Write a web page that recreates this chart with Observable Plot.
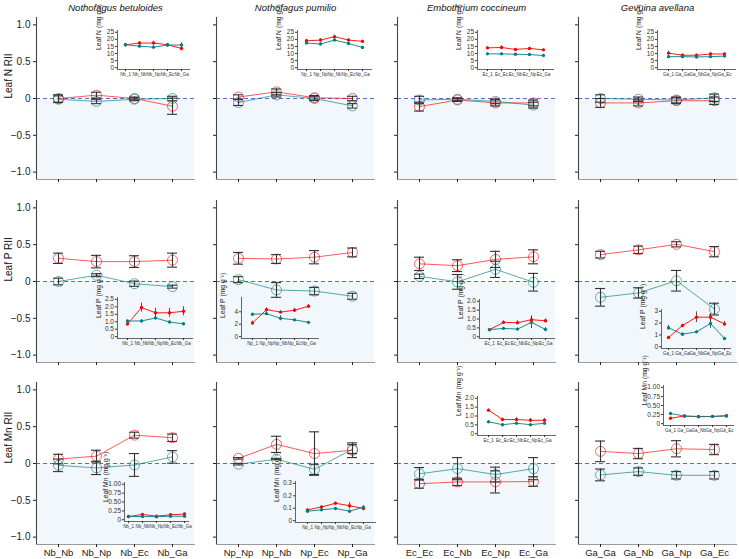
<!DOCTYPE html>
<html><head><meta charset="utf-8">
<script src="https://cdn.jsdelivr.net/npm/d3@7"></script>
<script src="https://cdn.jsdelivr.net/npm/@observablehq/plot@0.6"></script>
<style>
body{margin:0;background:#fff;}
#chart{position:relative;width:739px;height:559px;overflow:hidden;background:#fff;}
#chart svg{position:absolute;max-width:none;}
</style></head><body><div id="chart"></div>
<script>
// ---------- data ----------
const species = ["Nothofagus betuloides", "Nothofagus pumilio", "Embothrium coccineum", "Gevuina avellana"];
const rowLabels = ["Leaf N RII", "Leaf P RII", "Leaf Mn RII"];
const insetLabels = ["Leaf N (mg g\u207B\u00B9)", "Leaf P (mg g\u207B\u00B9)", "Leaf Mn (mg g\u207B\u00B9)"];
const seriesNames = ["red", "teal"];
const mainCats = [
  ["Nb_Nb", "Nb_Np", "Nb_Ec", "Nb_Ga"],
  ["Np_Np", "Np_Nb", "Np_Ec", "Np_Ga"],
  ["Ec_Ec", "Ec_Nb", "Ec_Np", "Ec_Ga"],
  ["Ga_Ga", "Ga_Nb", "Ga_Np", "Ga_Ec"]
];
const insetCats = [
  ["Nb_1", "Nb_Nb", "Nb_Np", "Nb_Ec", "Nb_Ga"],
  ["Np_1", "Np_Np", "Np_Nb", "Np_Ec", "Np_Ga"],
  ["Ec_1", "Ec_Ec", "Ec_Nb", "Ec_Np", "Ec_Ga"],
  ["Ga_1", "Ga_Ga", "Ga_Nb", "Ga_Np", "Ga_Ec"]
];
const riiTicks = [-1, -0.5, 0, 0.5, 1];

// RII (main panels): [species column][treatment]
const riiN_red     = [[0.00, 0.045, 0.00, -0.105], [0.02, 0.09, 0.01, 0.00], [-0.11, -0.02, -0.06, -0.06], [-0.06, -0.06, -0.03, -0.03]];
const riiN_redSE   = [[0.05, 0.04, 0.02, 0.11], [0.03, 0.04, 0.03, 0.03], [0.06, 0.02, 0.04, 0.04], [0.06, 0.04, 0.04, 0.05]];
const riiN_teal    = [[-0.01, -0.04, -0.01, 0.00], [-0.055, 0.05, 0.00, -0.10], [-0.02, -0.01, -0.04, -0.09], [0.00, -0.01, -0.02, 0.01]];
const riiN_tealSE  = [[0.045, 0.03, 0.02, 0.03], [0.04, 0.03, 0.03, 0.03], [0.05, 0.02, 0.03, 0.04], [0.05, 0.03, 0.04, 0.05]];

const riiP_red     = [[0.315, 0.27, 0.27, 0.29], [0.315, 0.305, 0.33, 0.395], [0.24, 0.215, 0.30, 0.335], [0.365, 0.43, 0.505, 0.405]];
const riiP_redSE   = [[0.07, 0.085, 0.08, 0.095], [0.08, 0.06, 0.09, 0.06], [0.09, 0.08, 0.11, 0.095], [0.045, 0.05, 0.035, 0.07]];
const riiP_teal    = [[0.00, 0.085, -0.03, -0.07], [0.025, -0.115, -0.13, -0.20], [0.07, -0.005, 0.165, -0.01], [-0.215, -0.155, 0.01, -0.375]];
const riiP_tealSE  = [[0.045, 0.02, 0.035, 0.02], [0.04, 0.10, 0.05, 0.04], [0.03, 0.10, 0.11, 0.12], [0.12, 0.07, 0.14, 0.08]];

const riiMn_red    = [[0.06, 0.10, 0.385, 0.35], [0.07, 0.26, 0.135, 0.18], [-0.275, -0.25, -0.25, -0.245], [0.165, 0.135, 0.20, 0.19]];
const riiMn_redSE  = [[0.065, 0.08, 0.04, 0.05], [0.01, 0.11, 0.295, 0.10], [0.06, 0.05, 0.15, 0.065], [0.14, 0.07, 0.11, 0.07]];
const riiMn_teal   = [[-0.025, -0.06, -0.02, 0.09], [-0.01, 0.06, -0.08, 0.195], [-0.14, -0.07, -0.15, -0.07], [-0.155, -0.11, -0.16, -0.16]];
const riiMn_tealSE = [[0.085, 0.09, 0.155, 0.085], [0.01, 0.01, 0.07, 0.06], [0.085, 0.15, 0.10, 0.15], [0.08, 0.05, 0.05, 0.05]];

// Leaf concentrations (insets): [species column][treatment]
const leafN_red     = [[16.2, 17.4, 17.4, 16.2, 13.6], [19.0, 19.5, 21.9, 19.5, 18.6], [14.0, 14.3, 12.9, 13.6, 12.6], [10.3, 8.8, 8.8, 9.7, 9.7]];
const leafN_redSE   = [[0.6, 1.0, 1.2, 0.8, 1.5], [1.0, 0.8, 1.0, 0.8, 0.8], [0.8, 1.2, 0.7, 0.8, 0.6], [1.3, 0.8, 0.8, 0.8, 0.6]];
const leafN_teal    = [[16.2, 15.2, 14.5, 16.0, 16.0], [17.4, 16.7, 19.5, 17.1, 14.3], [9.8, 9.8, 9.5, 9.3, 8.6], [7.8, 7.8, 7.6, 7.8, 8.2]];
const leafN_tealSE  = [[0.6, 0.8, 0.8, 0.6, 1.5], [0.8, 1.0, 1.2, 0.8, 0.8], [0.5, 0.5, 0.5, 0.5, 0.6], [0.8, 0.6, 0.6, 0.6, 0.6]];

const leafP_red     = [[0.85, 1.95, 1.6, 1.6, 1.7], [2.2, 4.35, 3.95, 4.25, 4.9], [0.4, 0.81, 0.79, 0.96, 0.9], [0.78, 1.8, 2.5, 2.5, 1.93]];
const leafP_redSE   = [[0.1, 0.3, 0.3, 0.3, 0.3], [0.3, 0.3, 0.2, 0.3, 0.3], [0.05, 0.08, 0.1, 0.2, 0.1], [0.05, 0.1, 0.45, 0.3, 0.2]];
const leafP_teal    = [[1.05, 1.05, 1.25, 0.98, 0.86], [3.6, 3.7, 2.95, 2.7, 2.3], [0.4, 0.47, 0.43, 0.81, 0.41], [1.6, 1.06, 1.26, 1.96, 0.7]];
const leafP_tealSE  = [[0.05, 0.05, 0.07, 0.05, 0.05], [0.1, 0.3, 0.4, 0.15, 0.1], [0.03, 0.05, 0.05, 0.35, 0.1], [0.2, 0.1, 0.1, 0.4, 0.05]];

const leafMn_red    = [[0.09, 0.15, 0.10, 0.14, 0.16], [0.087, 0.11, 0.14, 0.12, 0.098], [1.33, 0.80, 0.80, 0.76, 0.76], [0.15, 0.21, 0.19, 0.20, 0.22]];
const leafMn_redSE  = [[0.01, 0.02, 0.02, 0.02, 0.03], [0.008, 0.008, 0.008, 0.025, 0.01], [0.06, 0.08, 0.10, 0.10, 0.10], [0.02, 0.02, 0.02, 0.02, 0.02]];
const leafMn_teal   = [[0.09, 0.09, 0.085, 0.10, 0.10], [0.076, 0.087, 0.098, 0.076, 0.109], [0.67, 0.51, 0.59, 0.51, 0.59], [0.28, 0.21, 0.20, 0.20, 0.21]];
const leafMn_tealSE = [[0.01, 0.01, 0.01, 0.02, 0.02], [0.008, 0.008, 0.008, 0.008, 0.01], [0.06, 0.04, 0.06, 0.05, 0.06], [0.02, 0.02, 0.02, 0.02, 0.02]];

// inset y ticks, decimals and domains
const insetTicksN  = [[0, 5, 10, 15, 20, 25], [0, 5, 10, 15, 20, 25], [0, 5, 10, 15, 20, 25], [0, 5, 10, 15, 20, 25]];
const insetTicksP  = [[0, 0.5, 1, 1.5, 2, 2.5], [0, 2, 4], [0, 0.5, 1, 1.5, 2], [0, 1, 2, 3]];
const insetTicksMn = [[0, 0.25, 0.5, 0.75, 1], [0, 0.1, 0.2, 0.3], [0, 0.5, 1, 1.5, 2], [0, 0.25, 0.5, 0.75, 1]];
const insetDecimals = [[0, 0, 0, 0], [1, 0, 1, 0], [2, 1, 1, 2]];
const insetDomains = [
  [[-1.25, 26.25], [-1.25, 26.25], [-1.25, 26.25], [-1.25, 26.25]],
  [[-0.125, 2.625], [-0.3, 6.3], [-0.1, 2.1], [-0.15, 3.15]],
  [[-0.05, 1.05], [-0.015, 0.315], [-0.1, 2.1], [-0.05, 1.05]]
];

// ---------- layout (pixels) ----------
const FONT = '"Liberation Sans", Arial, Helvetica, sans-serif';
const RED = "#F8766D", TEAL = "#00BFC4";
const colX = [36, 216, 397, 578], panelW = 158;
const rowTop = [17, 200, 382], panelH = 162;
// inset boxes: axis x, pixel of value 0, px per unit, first-point offset, step
const insetBox = [
  [{x:117,y0:67,k:1.4,f:7,s:14.5},{x:297,y0:67,k:1.4,f:8,s:14.5},{x:477,y0:67,k:1.4,f:9.5,s:14.3},{x:657,y0:67,k:1.4,f:10.5,s:14.3}],
  [{x:117,y0:336,k:14.8,f:9,s:14.25},{x:241,y0:336,k:6.25,f:9,s:14.75},{x:479,y0:336,k:17.5,f:9,s:14.25},{x:661,y0:346,k:11.67,f:5,s:14.75}],
  [{x:124,y0:519,k:35,f:4,s:14},{x:295,y0:520,k:123,f:12,s:14},{x:477,y0:433,k:17.5,f:11,s:14},{x:663,y0:423,k:36,f:7,s:14}]
];

const chart = document.getElementById("chart");
function place(svg, left, top) {
  svg.style.left = left + "px";
  svg.style.top = top + "px";
  chart.appendChild(svg);
}
function rows(cats, rv, re, tv, te) {
  const out = [];
  cats.forEach((k, i) => out.push({s: seriesNames[0], k, v: rv[i], lo: rv[i] - re[i], hi: rv[i] + re[i]}));
  cats.forEach((k, i) => out.push({s: seriesNames[1], k, v: tv[i], lo: tv[i] - te[i], hi: tv[i] + te[i]}));
  return out;
}
const mainSets = [
  [riiN_red, riiN_redSE, riiN_teal, riiN_tealSE],
  [riiP_red, riiP_redSE, riiP_teal, riiP_tealSE],
  [riiMn_red, riiMn_redSE, riiMn_teal, riiMn_tealSE]
];
const insetSets = [
  [leafN_red, leafN_redSE, leafN_teal, leafN_tealSE],
  [leafP_red, leafP_redSE, leafP_teal, leafP_tealSE],
  [leafMn_red, leafMn_redSE, leafMn_teal, leafMn_tealSE]
];
const insetTicks = [insetTicksN, insetTicksP, insetTicksMn];
const fmtRII = d => d === 0 ? "0" : (d < 0 ? "\u2212" : "") + Math.abs(d).toFixed(1);

for (let r = 0; r < 3; r++) {
  for (let c = 0; c < 4; c++) {
    const [rv, re, tv, te] = mainSets[r];
    const data = rows(mainCats[c], rv[c], re[c], tv[c], te[c]);
    const mL = 36, mR = 4, mT = 17, mB = 16;
    const marks = [
      Plot.rect([0], {y1: -1.1, y2: 0, fill: "#f2f7fb"}),
      Plot.ruleY([0], {stroke: "#5b6cc4", strokeDasharray: "4,3", strokeWidth: 1}),
      Plot.frame({anchor: "left", stroke: "#444", strokeWidth: 1.1}),
      Plot.frame({anchor: "bottom", stroke: "#9a9a9a", strokeWidth: 1.1}),
      Plot.axisY({ticks: riiTicks, tickSize: 3, tickPadding: 3, tickFormat: c === 0 ? fmtRII : () => "", label: null, fontSize: 10}),
      Plot.axisX({tickSize: 3, tickPadding: 2, tickFormat: r === 2 ? d => d : () => "", label: null, fontSize: 9.5}),
      Plot.line(data, {x: "k", y: "v", stroke: "s", z: "s", strokeOpacity: 0.65, strokeWidth: 1}),
      Plot.dot(data, {x: "k", y: "v", stroke: "s", r: 5, strokeOpacity: 0.6, strokeWidth: 1}),
      Plot.ruleX(data, {x: "k", y1: "lo", y2: "hi", stroke: "#333", strokeWidth: 1.1}),
      Plot.ruleY(data, {x1: "k", x2: "k", y: "lo", insetLeft: -5, insetRight: -5, stroke: "#333", strokeWidth: 1.1}),
      Plot.ruleY(data, {x1: "k", x2: "k", y: "hi", insetLeft: -5, insetRight: -5, stroke: "#333", strokeWidth: 1.1})
    ];
    if (r === 0) marks.push(Plot.text([species[c]], {frameAnchor: "top", dy: -13, fontStyle: "italic", fontSize: 9.5, fill: "#111"}));
    if (c === 0) marks.push(Plot.text([rowLabels[r]], {frameAnchor: "left", rotate: -90, dx: -28, fontSize: 10, fill: "#111"}));
    const svg = Plot.plot({
      width: mL + panelW + mR, height: mT + panelH + mB,
      marginLeft: mL, marginRight: mR, marginTop: mT, marginBottom: mB,
      style: {background: "transparent", fontFamily: FONT, fontSize: "9px", color: "#222", overflow: "visible"},
      x: {type: "point", domain: mainCats[c], padding: 0.576},
      y: {domain: [-1.1, 1.1]},
      color: {domain: seriesNames, range: [RED, TEAL]},
      marks
    });
    place(svg, colX[c] - mL, rowTop[r] - mT);
  }
}

for (let r = 0; r < 3; r++) {
  for (let c = 0; c < 4; c++) {
    const [rv, re, tv, te] = insetSets[r];
    const data = rows(insetCats[c], rv[c], re[c], tv[c], te[c]);
    const b = insetBox[r][c], dom = insetDomains[r][c];
    const w = 4 * b.s + 2 * b.f, h = Math.round((dom[1] - dom[0]) * b.k);
    const top = Math.round(b.y0 - dom[1] * b.k);
    const dec = insetDecimals[r][c];
    const mL = 32, mR = 8, mT = 4, mB = 12;
    const svg = Plot.plot({
      width: Math.round(mL + w + mR), height: mT + h + mB,
      marginLeft: mL, marginRight: mR, marginTop: mT, marginBottom: mB,
      style: {background: "transparent", fontFamily: FONT, fontSize: "5.5px", color: "#333", overflow: "visible"},
      x: {type: "point", domain: insetCats[c], padding: b.f / b.s},
      y: {domain: dom},
      color: {domain: seriesNames, range: [RED, TEAL]},
      marks: [
        Plot.frame({anchor: "left", stroke: "#555", strokeWidth: 0.9}),
        Plot.frame({anchor: "bottom", stroke: "#555", strokeWidth: 0.9}),
        Plot.axisY({ticks: insetTicks[r][c], tickSize: 2, tickPadding: 1.5, fontSize: 6.5, label: null,
                    tickFormat: d => d === 0 ? "0" : d.toFixed(dec)}),
        Plot.axisX({tickSize: 2, tickPadding: 1.5, fontSize: 4.5, label: null}),
        Plot.line(data, {x: "k", y: "v", stroke: "s", z: "s", strokeWidth: 0.9}),
        Plot.ruleX(data, {x: "k", y1: "lo", y2: "hi", stroke: "#222", strokeWidth: 0.8}),
        Plot.dot(data, {x: "k", y: "v", fill: "s", r: 1.7}),
        Plot.text([insetLabels[r]], {frameAnchor: "left", rotate: -90, dx: -19, fontSize: 6.8, fill: "#222"})
      ]
    });
    place(svg, b.x - mL, top - mT);
  }
}
</script></body></html>
